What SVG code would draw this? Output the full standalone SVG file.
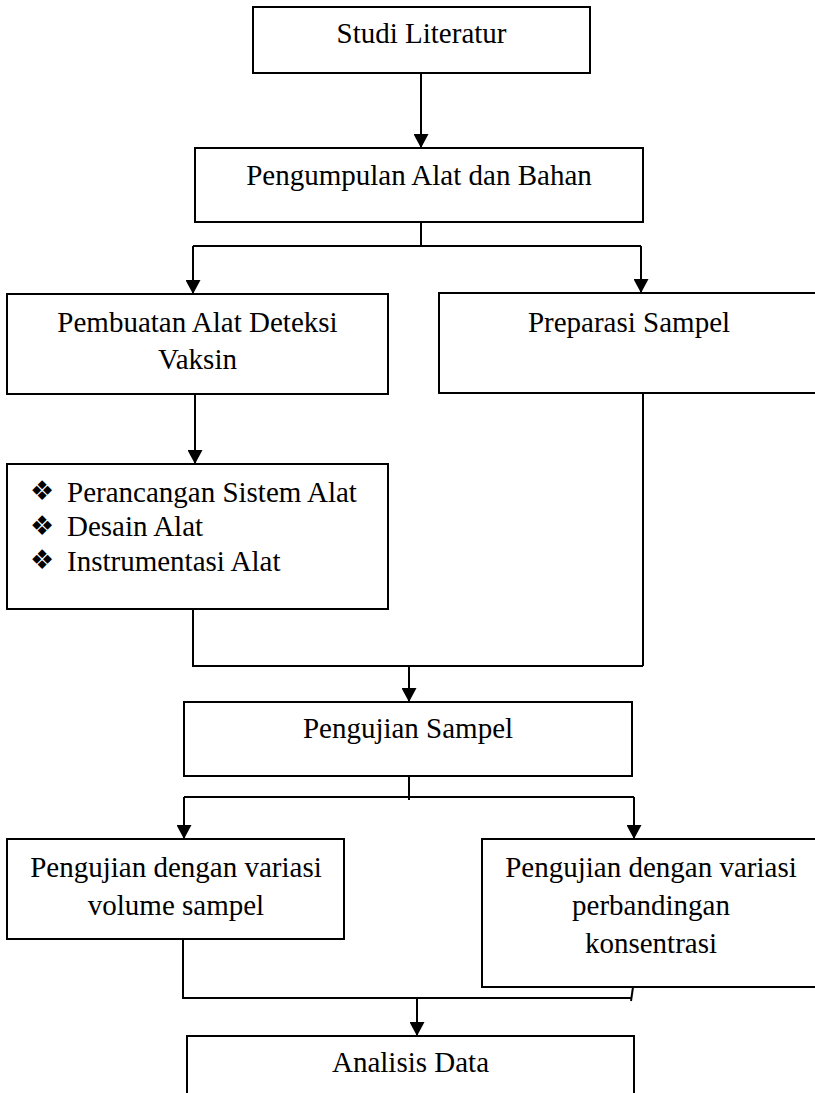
<svg xmlns="http://www.w3.org/2000/svg" width="815" height="1093" viewBox="0 0 815 1093">
<style>
.box{fill:#fff;stroke:#000;stroke-width:2}
.t{font-family:"Liberation Serif","Times New Roman",serif;font-size:29px;fill:#000}
.c{text-anchor:middle}
.b{font-family:"DejaVu Sans",sans-serif;font-size:27px;fill:#000}
.ln{fill:none;stroke:#000;stroke-width:2}
</style>
<defs>
<marker id="ah" viewBox="0 0 14 15" refX="14" refY="7.5" markerWidth="14" markerHeight="15" markerUnits="userSpaceOnUse" orient="auto">
<path d="M0,0 L14,7.5 L0,15 z" fill="#000"/>
</marker>
</defs>
<rect width="815" height="1093" fill="#fff"/>
<g id="connectors">
<path class="ln" d="M421,73 V148" marker-end="url(#ah)"/>
<path class="ln" d="M421,221 V246"/>
<path class="ln" d="M193,246 H641"/>
<path class="ln" d="M193,246 V294" marker-end="url(#ah)"/>
<path class="ln" d="M641,246 V293" marker-end="url(#ah)"/>
<path class="ln" d="M195,394 V464" marker-end="url(#ah)"/>
<path class="ln" d="M193,609 V666 H643"/>
<path class="ln" d="M643,392 V666"/>
<path class="ln" d="M409,666 V702" marker-end="url(#ah)"/>
<path class="ln" d="M409,776 V800"/>
<path class="ln" d="M184,797 H634"/>
<path class="ln" d="M184,797 V839" marker-end="url(#ah)"/>
<path class="ln" d="M634,797 V839" marker-end="url(#ah)"/>
<path class="ln" d="M183,939 V998 H631"/>
<path class="ln" d="M634,980 L631,1001"/>
<path class="ln" d="M417,998 V1036" marker-end="url(#ah)"/>
</g>
<g id="studi-literatur">
<rect class="box" x="253" y="7" width="337" height="66"/>
<text class="t c" x="421.5" y="43">Studi Literatur</text>
</g>
<g id="pengumpulan">
<rect class="box" x="195" y="148" width="448" height="74"/>
<text class="t c" x="419" y="185">Pengumpulan Alat dan Bahan</text>
</g>
<g id="pembuatan">
<rect class="box" x="7" y="294" width="381" height="100"/>
<text class="t c" x="197.5" y="332">Pembuatan Alat Deteksi</text>
<text class="t c" x="197.5" y="369">Vaksin</text>
</g>
<g id="preparasi">
<rect class="box" x="439" y="293" width="390" height="100"/>
<text class="t c" x="629" y="332">Preparasi Sampel</text>
</g>
<g id="perancangan">
<rect class="box" x="7" y="464" width="381" height="145"/>
<text class="b" x="30" y="500">❖</text>
<text class="t" x="67" y="502">Perancangan Sistem Alat</text>
<text class="b" x="30" y="534.5">❖</text>
<text class="t" x="67" y="536">Desain Alat</text>
<text class="b" x="30" y="569">❖</text>
<text class="t" x="67" y="571">Instrumentasi Alat</text>
</g>
<g id="pengujian-sampel">
<rect class="box" x="184" y="702" width="448" height="74"/>
<text class="t c" x="408" y="738">Pengujian Sampel</text>
</g>
<g id="variasi-volume">
<rect class="box" x="7" y="839" width="337" height="100"/>
<text class="t c" x="176" y="877">Pengujian dengan variasi</text>
<text class="t c" x="176" y="915">volume sampel</text>
</g>
<g id="variasi-konsentrasi">
<rect class="box" x="482" y="839" width="345" height="148"/>
<text class="t c" x="651" y="877">Pengujian dengan variasi</text>
<text class="t c" x="651" y="915">perbandingan</text>
<text class="t c" x="651" y="953">konsentrasi</text>
</g>
<g id="analisis">
<rect class="box" x="187" y="1036" width="447" height="80"/>
<text class="t c" x="410.5" y="1072">Analisis Data</text>
</g>
</svg>
